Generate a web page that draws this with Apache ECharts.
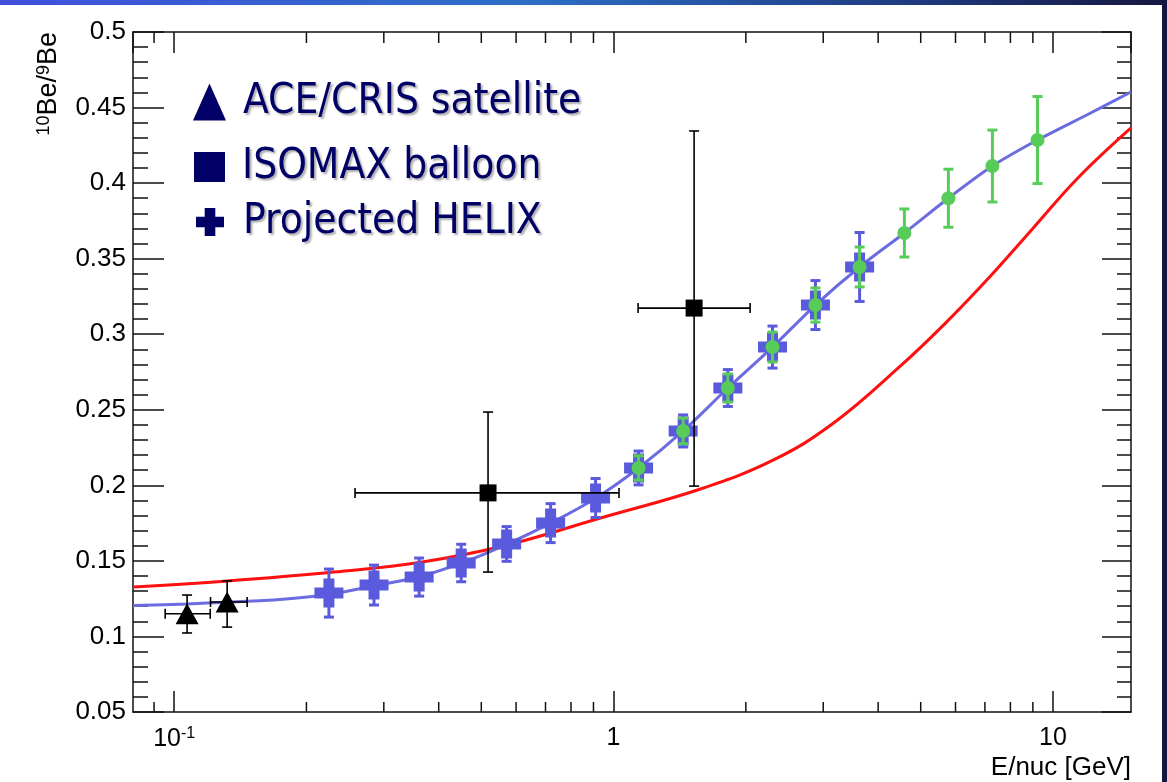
<!DOCTYPE html>
<html>
<head>
<meta charset="utf-8">
<script src="https://cdn.jsdelivr.net/npm/echarts@6/dist/echarts.min.js"></script>
<style>
  html, body { margin: 0; padding: 0; background: #ffffff; }
  #chart { width: 1167px; height: 782px; }
</style>
</head>
<body>
<div id="chart"></div>
<script>
// 10Be/9Be isotope ratio as a function of kinetic energy per nucleon

// ACE/CRIS satellite measurements
const ACE_E        = [0.107, 0.132];
const ACE_RATIO    = [0.115, 0.1228];
const ACE_E_LO     = [0.0954, 0.121];
const ACE_E_HI     = [0.1208, 0.1466];
const ACE_RATIO_LO = [0.1023, 0.1062];
const ACE_RATIO_HI = [0.1274, 0.1367];

// ISOMAX balloon measurements
const ISOMAX_E        = [0.518, 1.525];
const ISOMAX_RATIO    = [0.195, 0.3173];
const ISOMAX_E_LO     = [0.258, 1.137];
const ISOMAX_E_HI     = [1.029, 2.045];
const ISOMAX_RATIO_LO = [0.1426, 0.1995];
const ISOMAX_RATIO_HI = [0.2485, 0.4345];

// Projected HELIX points (symmetric errors)
const HELIX_E     = [0.225, 0.285, 0.361, 0.450, 0.571, 0.719, 0.910, 1.14, 1.44, 1.82, 2.30, 2.88, 3.63];
const HELIX_RATIO = [0.1287, 0.134, 0.1393, 0.1486, 0.1612, 0.175, 0.1916, 0.2115, 0.236, 0.2644, 0.2915, 0.3193, 0.3445];
const HELIX_ERR   = [0.0159, 0.0132, 0.0126, 0.0124, 0.0115, 0.0129, 0.0129, 0.0112, 0.0106, 0.0122, 0.0139, 0.0162, 0.0228];

// Higher-energy projected points (symmetric errors)
const HIGH_E     = [1.14, 1.44, 1.82, 2.30, 2.88, 3.63, 4.59, 5.78, 7.28, 9.22];
const HIGH_RATIO = [0.2115, 0.236, 0.2644, 0.2915, 0.3193, 0.3445, 0.367, 0.390, 0.4113, 0.4285];
const HIGH_ERR   = [0.008, 0.0085, 0.0093, 0.0099, 0.0113, 0.0132, 0.0159, 0.0192, 0.0238, 0.0288];

// Model curves
const MODEL_A_E     = [0.0806, 0.107, 0.132, 0.174, 0.225, 0.285, 0.361, 0.45, 0.571, 0.719, 0.91, 1.14, 1.44, 1.82, 2.30, 2.88, 3.63, 4.59, 5.78, 7.28, 9.22, 12.18, 15.05];
const MODEL_A_RATIO = [0.1205, 0.1215, 0.1227, 0.1245, 0.1278, 0.1335, 0.1395, 0.1485, 0.161, 0.175, 0.1915, 0.2115, 0.236, 0.2644, 0.2915, 0.3193, 0.3445, 0.367, 0.390, 0.4113, 0.4285, 0.4464, 0.4603];
const MODEL_B_E     = [0.0806, 0.132, 0.2254, 0.361, 0.573, 0.934, 1.577, 2.312, 3.167, 4.498, 5.70, 7.208, 9.03, 11.45, 15.05];
const MODEL_B_RATIO = [0.1327, 0.1367, 0.1423, 0.1489, 0.1605, 0.1784, 0.1976, 0.2168, 0.2412, 0.279, 0.3075, 0.3385, 0.3705, 0.4040, 0.4365];

// Axis ranges and tick values
const X_MIN = 0.0806, X_MAX = 15.05;
const Y_MIN = 0.05, Y_MAX = 0.5, Y_STEP = 0.05;
const X_MINOR_TICKS = [0.09, 0.2, 0.3, 0.4, 0.5, 0.6, 0.7, 0.8, 0.9, 2, 3, 4, 5, 6, 7, 8, 9];

const AXIS_COLOR = '#111111';
const TICK_FONT = "'Liberation Sans', Arial, Helvetica, sans-serif";
const LEGEND_FONT = "'DejaVu Sans Condensed', 'DejaVu Sans', Tahoma, sans-serif";
const NAVY = '#000066';
const HELIX_BLUE = '#5a5adc';
const LINE_BLUE = '#6c6ce0';
const GREEN = '#58cc58';
const PLUS_PATH = 'path://M9,0H20V9H29V20H20V29H9V20H0V9H9Z';

const zip = (...cols) => cols[0].map((_, i) => cols.map(c => c[i]));

// error bars with end caps; value layout: [x, y, xLo, xHi, yLo, yHi]
function errorBars(color, width, capHalf) {
  return function (params, api) {
    const c = api.coord([api.value(0), api.value(1)]);
    const xl = api.coord([api.value(2), api.value(1)])[0];
    const xh = api.coord([api.value(3), api.value(1)])[0];
    const yl = api.coord([api.value(0), api.value(4)])[1];
    const yh = api.coord([api.value(0), api.value(5)])[1];
    const style = { stroke: color, lineWidth: width };
    const parts = [];
    const seg = (x1, y1, x2, y2) => parts.push({ type: 'line', shape: { x1, y1, x2, y2 }, style });
    seg(c[0], yl, c[0], yh);
    seg(c[0] - capHalf, yl, c[0] + capHalf, yl);
    seg(c[0] - capHalf, yh, c[0] + capHalf, yh);
    if (Math.abs(xh - xl) > 1) {
      seg(xl, c[1], xh, c[1]);
      seg(xl, c[1] - capHalf, xl, c[1] + capHalf);
      seg(xh, c[1] - capHalf, xh, c[1] + capHalf);
    }
    return { type: 'group', children: parts };
  };
}

// short log-axis subdivision ticks on the bottom and top frame edges
function minorTicks(params, api) {
  const x = api.coord([api.value(0), Y_MIN])[0];
  const cs = params.coordSys;
  const style = { stroke: AXIS_COLOR, lineWidth: 1.5 };
  return {
    type: 'group',
    children: [
      { type: 'line', shape: { x1: x, y1: cs.y + cs.height, x2: x, y2: cs.y + cs.height - 10 }, style },
      { type: 'line', shape: { x1: x, y1: cs.y, x2: x, y2: cs.y + 11 }, style }
    ]
  };
}

function decadeLabel(v) {
  const e = Math.round(Math.log10(v));
  if (Math.abs(Math.log10(v) - e) > 1e-6) return '';
  if (e === 0) return '{n|1}';
  if (e === 1) return '{n|10}';
  return '{n|10}{s|' + e + '}';
}

const legendText = {
  fontFamily: LEGEND_FONT,
  fontSize: 42,
  color: NAVY,
  textShadowColor: 'rgba(0,0,0,0.32)',
  textShadowBlur: 2,
  textShadowOffsetX: 2,
  textShadowOffsetY: 2,
  padding: [0, 0, 0, 12]
};

const logAxisBase = {
  type: 'log',
  logBase: 10,
  min: X_MIN,
  max: X_MAX,
  splitLine: { show: false },
  axisLine: { show: true, lineStyle: { color: AXIS_COLOR, width: 1.5 } },
  axisTick: { show: true, inside: true, length: 21, lineStyle: { color: AXIS_COLOR, width: 1.5 } }
};

const valueAxisBase = {
  type: 'value',
  min: Y_MIN,
  max: Y_MAX,
  interval: Y_STEP,
  splitLine: { show: false },
  axisLine: { show: true, lineStyle: { color: AXIS_COLOR, width: 1.5 } },
  axisTick: { show: true, inside: true, length: 31, lineStyle: { color: AXIS_COLOR, width: 1.5 } },
  minorTick: { show: true, splitNumber: 5, length: 15, lineStyle: { color: AXIS_COLOR, width: 1.5 } }
};

const chart = echarts.init(document.getElementById('chart'), null, { renderer: 'canvas' });

chart.setOption({
  animation: false,
  backgroundColor: '#ffffff',
  grid: { left: 133, top: 32, width: 998, height: 680, containLabel: false },
  xAxis: [
    Object.assign({}, logAxisBase, {
      position: 'bottom',
      name: 'E/nuc [GeV]',
      nameLocation: 'end',
      nameGap: 0,
      nameMoveOverlap: false,
      nameTextStyle: {
        fontFamily: TICK_FONT, fontSize: 26, color: '#000',
        align: 'right', verticalAlign: 'top', padding: [43, 0, 0, 0]
      },
      axisLabel: {
        show: true, margin: 14, interval: 0,
        showMinLabel: false, showMaxLabel: false,
        formatter: decadeLabel,
        rich: {
          n: { fontFamily: TICK_FONT, fontSize: 25, color: '#000' },
          s: { fontFamily: TICK_FONT, fontSize: 16, color: '#000', verticalAlign: 'top', padding: [0, 0, 10, 0] }
        }
      }
    }),
    Object.assign({}, logAxisBase, { position: 'top', axisLabel: { show: false } })
  ],
  yAxis: [
    Object.assign({}, valueAxisBase, {
      position: 'left',
      axisLabel: {
        show: true, margin: 7,
        showMinLabel: true, showMaxLabel: true,
        fontFamily: TICK_FONT, fontSize: 26, color: '#000'
      }
    }),
    Object.assign({}, valueAxisBase, {
      position: 'right',
      axisTick: { show: true, inside: true, length: 29, lineStyle: { color: AXIS_COLOR, width: 1.5 } },
      minorTick: { show: true, splitNumber: 5, length: 14, lineStyle: { color: AXIS_COLOR, width: 1.5 } },
      axisLabel: { show: false }
    })
  ],
  legend: [
    {
      left: 193, top: 81, padding: 0, orient: 'vertical', selectedMode: false,
      itemWidth: 33, itemHeight: 37, textStyle: legendText,
      data: [{ name: 'ACE/CRIS satellite', icon: 'triangle', itemStyle: { color: NAVY } }]
    },
    {
      left: 194, top: 146, padding: 0, orient: 'vertical', selectedMode: false,
      itemWidth: 31, itemHeight: 30, textStyle: legendText,
      data: [{ name: 'ISOMAX balloon', icon: 'rect', itemStyle: { color: NAVY } }]
    },
    {
      left: 196, top: 201, padding: 0, orient: 'vertical', selectedMode: false,
      itemWidth: 28, itemHeight: 29, textStyle: Object.assign({}, legendText, { padding: [0, 0, 0, 14] }),
      data: [{ name: 'Projected HELIX', icon: PLUS_PATH, itemStyle: { color: NAVY } }]
    }
  ],
  graphic: [
    {
      type: 'rect', silent: true, z: -10,
      shape: { x: 0, y: 0, width: 1167, height: 5 },
      style: {
        fill: new echarts.graphic.LinearGradient(0, 0, 1, 0, [
          { offset: 0, color: '#4150dc' },
          { offset: 0.45, color: '#2c6fc6' },
          { offset: 0.78, color: '#1f3a80' },
          { offset: 1, color: '#16173f' }
        ])
      }
    },
    {
      type: 'rect', silent: true, z: -10,
      shape: { x: 1162, y: 0, width: 5, height: 782 },
      style: { fill: '#15163f' }
    },
    {
      type: 'text', silent: true,
      x: 49, y: 32, rotation: Math.PI / 2,
      style: {
        text: '{s|10}{b|Be/}{s|9}{b|Be}',
        align: 'right', verticalAlign: 'middle',
        rich: {
          b: { fontFamily: TICK_FONT, fontSize: 27, fill: '#000' },
          s: { fontFamily: TICK_FONT, fontSize: 18, fill: '#000', verticalAlign: 'top', padding: [0, 0, 10, 0] }
        }
      }
    }
  ],
  series: [
    {
      name: 'model-b', type: 'line', z: 2, silent: true,
      data: zip(MODEL_B_E, MODEL_B_RATIO), smooth: 0.4, showSymbol: false,
      lineStyle: { color: '#ff1010', width: 3 }
    },
    {
      name: 'model-a', type: 'line', z: 3, silent: true,
      data: zip(MODEL_A_E, MODEL_A_RATIO), smooth: 0.3, showSymbol: false,
      lineStyle: { color: LINE_BLUE, width: 3 }
    },
    {
      name: 'minor-ticks', type: 'custom', z: 1, silent: true, clip: false,
      data: X_MINOR_TICKS.map(v => [v, Y_MIN]),
      renderItem: minorTicks
    },
    {
      name: 'helix-errors', type: 'custom', z: 4, silent: true,
      data: HELIX_E.map((e, i) => [e, HELIX_RATIO[i], e, e, HELIX_RATIO[i] - HELIX_ERR[i], HELIX_RATIO[i] + HELIX_ERR[i]]),
      renderItem: errorBars(HELIX_BLUE, 3, 5)
    },
    {
      name: 'Projected HELIX', type: 'scatter', z: 5,
      data: zip(HELIX_E, HELIX_RATIO),
      symbol: PLUS_PATH, symbolSize: 29,
      itemStyle: { color: HELIX_BLUE, opacity: 1 }
    },
    {
      name: 'high-errors', type: 'custom', z: 6, silent: true,
      data: HIGH_E.map((e, i) => [e, HIGH_RATIO[i], e, e, HIGH_RATIO[i] - HIGH_ERR[i], HIGH_RATIO[i] + HIGH_ERR[i]]),
      renderItem: errorBars(GREEN, 3, 5)
    },
    {
      name: 'high-points', type: 'scatter', z: 7,
      data: zip(HIGH_E, HIGH_RATIO),
      symbol: 'circle', symbolSize: 14,
      itemStyle: { color: GREEN, opacity: 1 }
    },
    {
      name: 'black-errors', type: 'custom', z: 8, silent: true,
      data: zip(ACE_E, ACE_RATIO, ACE_E_LO, ACE_E_HI, ACE_RATIO_LO, ACE_RATIO_HI)
        .concat(zip(ISOMAX_E, ISOMAX_RATIO, ISOMAX_E_LO, ISOMAX_E_HI, ISOMAX_RATIO_LO, ISOMAX_RATIO_HI)),
      renderItem: errorBars('#000000', 1.6, 5)
    },
    {
      name: 'ACE/CRIS satellite', type: 'scatter', z: 9,
      data: zip(ACE_E, ACE_RATIO),
      symbol: 'triangle', symbolSize: [23, 21],
      itemStyle: { color: '#000000', opacity: 1 }
    },
    {
      name: 'ISOMAX balloon', type: 'scatter', z: 9,
      data: zip(ISOMAX_E, ISOMAX_RATIO),
      symbol: 'rect', symbolSize: 17,
      itemStyle: { color: '#000000', opacity: 1 }
    }
  ]
});
</script>
</body>
</html>
